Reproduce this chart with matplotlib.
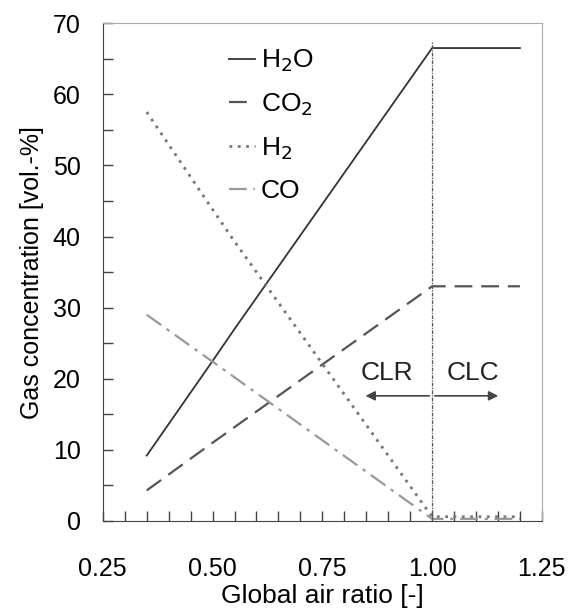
import matplotlib.pyplot as plt
from matplotlib.ticker import MultipleLocator

plt.rcParams['font.family'] = ['Liberation Sans', 'DejaVu Sans']

# global air ratio and gas concentrations [vol.-%]
air_ratio = [0.35, 0.50, 0.55, 1.00, 1.20]
h2o = [9.2, 22.5, 27.0, 66.5, 66.5]
co2 = [4.3, 11.0, 13.2, 33.0, 33.0]
h2 = [57.5, 43.8, 39.3, 0.6, 0.6]
co = [29.0, 22.4, 20.2, 0.3, 0.3]

fig = plt.figure(figsize=(5.68, 6.09), dpi=100)
ax = fig.add_axes([0.181, 0.1445, 0.773, 0.8175])

ax.plot(air_ratio, h2o, color='#333333', lw=1.3, ls='-', label='H$_2$O')
ax.plot(air_ratio, co2, color='#555555', lw=1.6, ls=(0, (8, 4)), label='CO$_2$')
ax.plot(air_ratio, h2, color='#777777', lw=2.0, ls=(0, (1, 2)), label='H$_2$')
ax.plot(air_ratio, co, color='#999999', lw=1.6, ls=(0, (8, 3, 1.5, 3)), label='CO')

# boundary between reforming and combustion
ax.plot([1.0, 1.0], [0, 67.5], color='#555555', lw=0.9, ls=(0, (3, 1, 1, 1)))
ax.annotate('', xy=(0.842, 17.6), xytext=(1.0, 17.6),
            arrowprops=dict(arrowstyle='-|>', color='#444444', lw=1.2, mutation_scale=14))
ax.annotate('', xy=(1.157, 17.6), xytext=(1.0, 17.6),
            arrowprops=dict(arrowstyle='-|>', color='#444444', lw=1.2, mutation_scale=14))
ax.text(0.897, 20.8, 'CLR', fontsize=19, ha='center', va='center', color='#222222')
ax.text(1.093, 20.8, 'CLC', fontsize=19, ha='center', va='center', color='#222222')

ax.set_xlim(0.25, 1.25)
ax.set_ylim(0, 70)
ax.xaxis.set_minor_locator(MultipleLocator(0.05))
ax.yaxis.set_major_locator(MultipleLocator(10))
ax.yaxis.set_minor_locator(MultipleLocator(5))
ax.set_xticks([0.25, 0.5, 0.75, 1.0, 1.25])
ax.set_xticklabels(['0.25', '0.50', '0.75', '1.00', '1.25'])
ax.tick_params(which='both', direction='in', length=7, width=1, color='#444444',
               top=False, right=False)
ax.tick_params(axis='x', labelsize=18, pad=26)
ax.tick_params(axis='y', labelsize=18, pad=16)

for side in ['left', 'bottom']:
    ax.spines[side].set_color('#444444')
for side in ['top', 'right']:
    ax.spines[side].set_color('#aaaaaa')

ax.set_xlabel('Global air ratio [-]', fontsize=19, labelpad=2)
ax.set_ylabel('Gas concentration [vol.-%]', fontsize=18, labelpad=6)

ax.legend(loc='upper left', bbox_to_anchor=(0.233, 0.998), frameon=False, fontsize=19,
          handlelength=1.0, handletextpad=0.2, labelspacing=0.65)

fig.savefig('out.png', dpi=100)
